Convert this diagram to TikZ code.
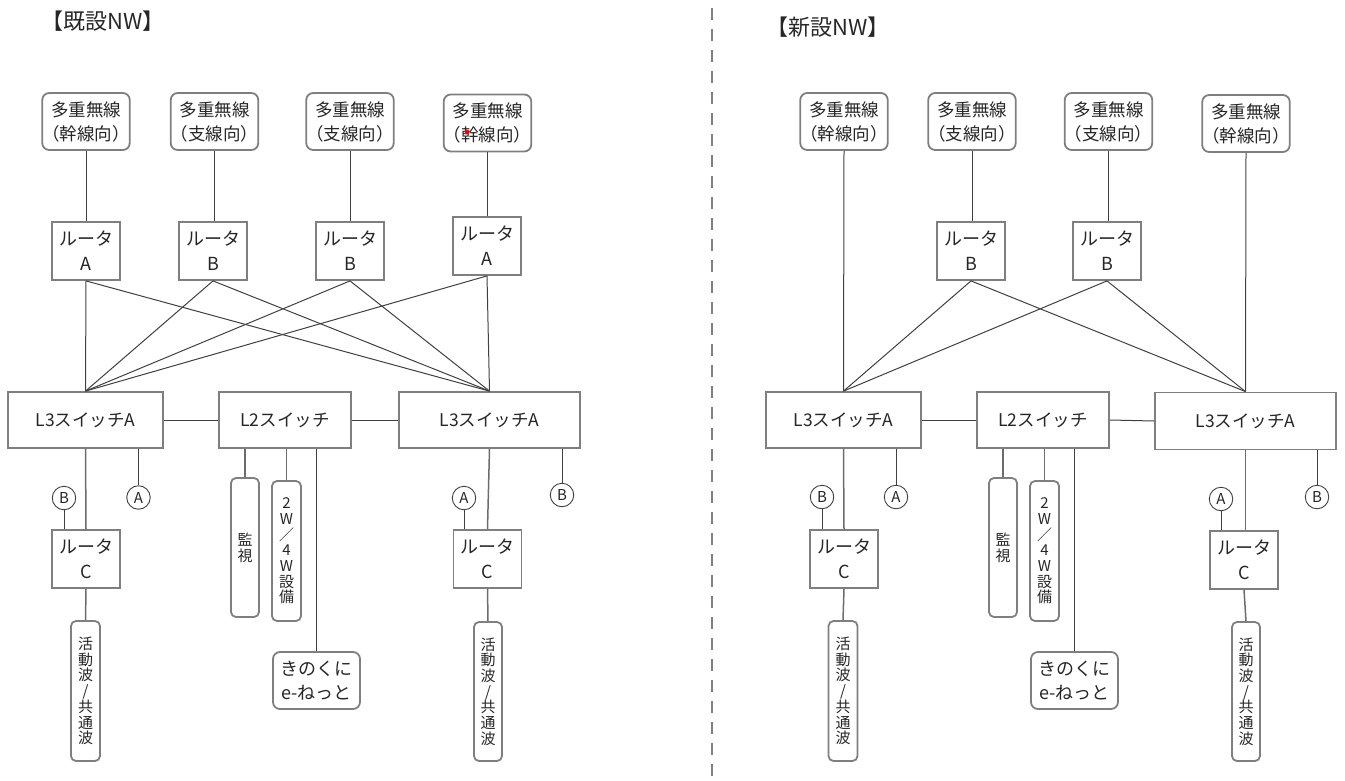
\documentclass[tikz,border=0pt]{standalone}
\usepackage{fontspec}
\setmainfont{Noto Sans CJK JP}
\begin{document}
\definecolor{bordergray}{HTML}{7F7F7F}
\definecolor{linedark}{HTML}{404040}
\definecolor{txt}{HTML}{262626}
\tikzset{
  box/.style={draw=bordergray, line width=1.8pt, inner sep=0pt, align=center, text=txt},
  radio/.style={box, rounded corners=7pt, minimum width=84pt, minimum height=57pt, font=\fontsize{17.5}{24}\selectfont},
  router/.style={box, minimum width=68pt, minimum height=58pt, font=\fontsize{18}{25}\selectfont},
  swbox/.style={box, minimum height=56pt, font=\fontsize{17.5}{20}\selectfont},
  vbox/.style={box, rounded corners=5pt, minimum width=28pt, minimum height=139pt, font=\fontsize{15}{15.7}\selectfont},
  kbox/.style={box, rounded corners=7pt, minimum width=87pt, minimum height=57pt, font=\fontsize{18}{24}\selectfont},
  circ/.style={circle, draw=linedark, line width=0.9pt, minimum size=23.5pt, inner sep=0pt, text=txt, font=\fontsize{15}{15}\selectfont},
  conn/.style={draw=linedark, line width=1pt},
  conng/.style={draw=bordergray!85!black, line width=1.5pt},
  hdr/.style={text=txt, font=\fontsize{22}{24}\selectfont, inner sep=0pt},
}
\begin{tikzpicture}[x=1pt,y=-1pt]
\useasboundingbox (0,0) rectangle (1345,780);
% divider
\draw[draw=bordergray, line width=1.8pt, dash pattern=on 12pt off 9pt] (712,8) -- (712,780);
% headers
\node[hdr] (hL) at (103,21) {【既設NW】};
\node[hdr] (hR) at (828,27) {【新設NW】};

% ===== left =====
\node[radio] (rL1) at (86,121.5) {多重無線\\（幹線向）};
\node[radio] (rL2) at (214.5,121.5) {多重無線\\（支線向）};
\node[radio] (rL3) at (350,121.5) {多重無線\\（支線向）};
\node[radio] (rL4) at (487.5,123) {多重無線\\（幹線向）};
\fill[red] (467,132) circle (2.3pt);

\node[router] (aL1) at (86,251) {ルータ\\A};
\node[router] (bL2) at (213,251) {ルータ\\B};
\node[router] (bL3) at (350,251) {ルータ\\B};
\node[router] (aL4) at (487,246) {ルータ\\A};

\node[swbox, minimum width=155pt] (sL) at (85.5,420) {L3スイッチA};
\node[swbox, minimum width=132pt] (l2L) at (285,420) {L2スイッチ};
\node[swbox, minimum width=181pt] (sR) at (489.5,420) {L3スイッチA};

\node[circ] (cBL) at (64,498) {B};
\node[circ] (cAL) at (138.5,497.5) {A};
\node[router] (rcL) at (86,559) {ルータ\\C};
\node[vbox, minimum width=29pt, minimum height=140pt] (katL) at (85.5,691) {活\\動\\波\\/\\共\\通\\波};

\node[vbox] (monL) at (245,547.5) {監\\視};
\node[vbox, minimum width=29pt, minimum height=140pt] (wL) at (286.5,551) {2\\W\\／\\4\\W\\設\\備};
\node[kbox] (kinoL) at (316.5,680.5) {きのくに\\e-ねっと};

\node[circ] (cAR) at (464,498) {A};
\node[circ] (cBR) at (562,495) {B};
\node[router] (rcR) at (487.5,559) {ルータ\\C};
\node[vbox] (katR) at (488,691.5) {活\\動\\波\\/\\共\\通\\波};

% left connectors
\draw[conn] (rL1.south) -- (aL1.north);
\draw[conn] (rL2.south) -- (rL2.south |- bL2.north);
\draw[conn] (rL3.south) -- (bL3.north);
\draw[conn] (rL4.south) -- (rL4.south |- aL4.north);
\foreach \r in {aL1,bL2,bL3,aL4}{
  \draw[conn] (\r.south) -- (sL.north);
  \draw[conn] (\r.south) -- (sR.north);
}
\draw[conn] (sL.east) -- (l2L.west);
\draw[conn] (l2L.east) -- (sR.west);
\draw[conng] (sL.south) -- (rcL.north);
\draw[conn] (cBL.south) -- (cBL.south |- rcL.north);
\draw[conn] (cAL.north |- sL.south) -- (cAL.north);
\draw[conng] (rcL.south) -- (katL.north);
\draw[conng] (monL.north |- l2L.south) -- (monL.north);
\draw[conng] (wL.north |- l2L.south) -- (wL.north);
\draw[conn] (kinoL.north |- l2L.south) -- (kinoL.north);
\draw[conng] (sR.south) -- (rcR.north);
\draw[conn] (cAR.south) -- (cAR.south |- rcR.north);
\draw[conn] (cBR.north |- sR.south) -- (cBR.north);
\draw[conng] (rcR.south) -- (katR.north);

% ===== right =====
\node[radio] (rR1) at (844,121.5) {多重無線\\（幹線向）};
\node[radio] (rR2) at (972,121.5) {多重無線\\（支線向）};
\node[radio] (rR3) at (1108.5,121.5) {多重無線\\（支線向）};
\node[radio] (rR4) at (1246,123.5) {多重無線\\（幹線向）};

\node[router] (bR2) at (971,251) {ルータ\\B};
\node[router] (bR3) at (1107,251) {ルータ\\B};

\node[swbox, minimum width=155pt] (sL2) at (843.5,420) {L3スイッチA};
\node[swbox, minimum width=132pt] (l2R) at (1043,420) {L2スイッチ};
\node[swbox, minimum width=181pt, minimum height=57pt] (sR2) at (1245.5,421) {L3スイッチA};

\node[circ] (cBL2) at (822,497) {B};
\node[circ] (cAL2) at (896,497) {A};
\node[router] (rcL2) at (844,559) {ルータ\\C};
\node[vbox, minimum width=29pt, minimum height=140pt] (katL2) at (843,691) {活\\動\\波\\/\\共\\通\\波};

\node[vbox] (monR) at (1003,547.5) {監\\視};
\node[vbox, minimum width=29pt, minimum height=140pt] (wR) at (1044.5,551) {2\\W\\／\\4\\W\\設\\備};
\node[kbox] (kinoR) at (1074.5,680.5) {きのくに\\e-ねっと};

\node[circ] (cAR2) at (1221,499) {A};
\node[circ] (cBR2) at (1317,497) {B};
\node[router] (rcR2) at (1244,560) {ルータ\\C};
\node[vbox] (katR2) at (1246,691.5) {活\\動\\波\\/\\共\\通\\波};

% right connectors
\draw[conn] (rR1.south) -- (sL2.north);
\draw[conn] (rR2.south) -- (rR2.south |- bR2.north);
\draw[conn] (rR3.south) -- (rR3.south |- bR3.north);
\draw[conn] (rR4.south) -- (sR2.north);
\foreach \r in {bR2,bR3}{
  \draw[conn] (\r.south) -- (sL2.north);
  \draw[conn] (\r.south) -- (sR2.north);
}
\draw[conn] (sL2.east) -- (l2R.west);
\draw[conn] (l2R.east) -- (sR2.west);
\draw[conng] (sL2.south) -- (rcL2.north);
\draw[conn] (cBL2.south) -- (cBL2.south |- rcL2.north);
\draw[conn] (cAL2.north |- sL2.south) -- (cAL2.north);
\draw[conng] (rcL2.south) -- (katL2.north);
\draw[conng] (monR.north |- l2R.south) -- (monR.north);
\draw[conng] (wR.north |- l2R.south) -- (wR.north);
\draw[conn] (kinoR.north |- l2R.south) -- (kinoR.north);
\draw[conng] (sR2.south) -- (sR2.south |- rcR2.north);
\draw[conn] (cAR2.south) -- (cAR2.south |- rcR2.north);
\draw[conn] (cBR2.north |- sR2.south) -- (cBR2.north);
\draw[conng] (rcR2.south) -- (katR2.north);
\end{tikzpicture}
\end{document}
